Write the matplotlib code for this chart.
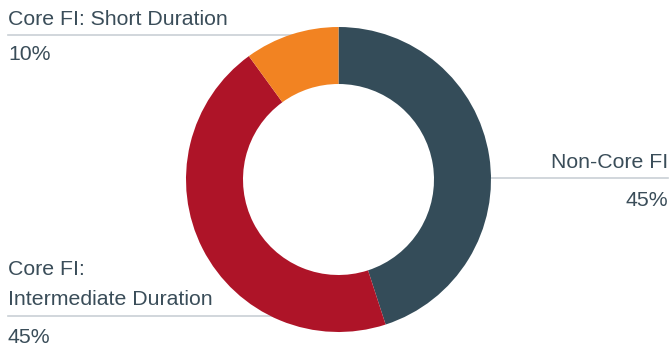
import matplotlib.pyplot as plt

labels = ['Non-Core FI', 'Core FI:\nIntermediate Duration', 'Core FI: Short Duration']
shares = [45, 45, 10]
colors = ['#344c59', '#ae1428', '#f28322']

text_color = '#3a4d59'
rule_color = '#c9d0d5'

plt.rcParams['font.family'] = ['Liberation Sans', 'DejaVu Sans']

W, H = 670, 347

fig = plt.figure(figsize=(6.7, 3.47), dpi=100)
ax = fig.add_axes([0, 0, 1, 1])


def y(px):
    # pixel row (from top) -> data y
    return H - px


# label rules go behind the ring
ax.plot([8, 300], [y(35), y(35)], color=rule_color, lw=1.2, zorder=1)
ax.plot([480, 668], [y(178), y(178)], color=rule_color, lw=1.2, zorder=1)
ax.plot([8, 300], [y(316), y(316)], color=rule_color, lw=1.2, zorder=1)

ax.pie(shares, colors=colors, startangle=90, counterclock=False,
       center=(338.5, y(179.5)), radius=152.5, frame=True,
       wedgeprops=dict(width=57, edgecolor='none', zorder=2))
ax.set_xlim(0, W)
ax.set_ylim(0, H)
ax.set_aspect('equal')
ax.axis('off')

fs = 15.3
ax.text(8, y(25), labels[2], fontsize=fs, color=text_color, ha='left', va='baseline')
ax.text(8, y(60), f'{shares[2]}%', fontsize=fs, color=text_color, ha='left', va='baseline')

ax.text(668, y(168), labels[0], fontsize=fs, color=text_color, ha='right', va='baseline')
ax.text(668, y(206), f'{shares[0]}%', fontsize=fs, color=text_color, ha='right', va='baseline')

ax.text(8, y(305), labels[1], fontsize=fs, color=text_color, ha='left', va='baseline',
        linespacing=1.75)
ax.text(8, y(343), f'{shares[1]}%', fontsize=fs, color=text_color, ha='left', va='baseline')

fig.savefig('out.png', dpi=100)
